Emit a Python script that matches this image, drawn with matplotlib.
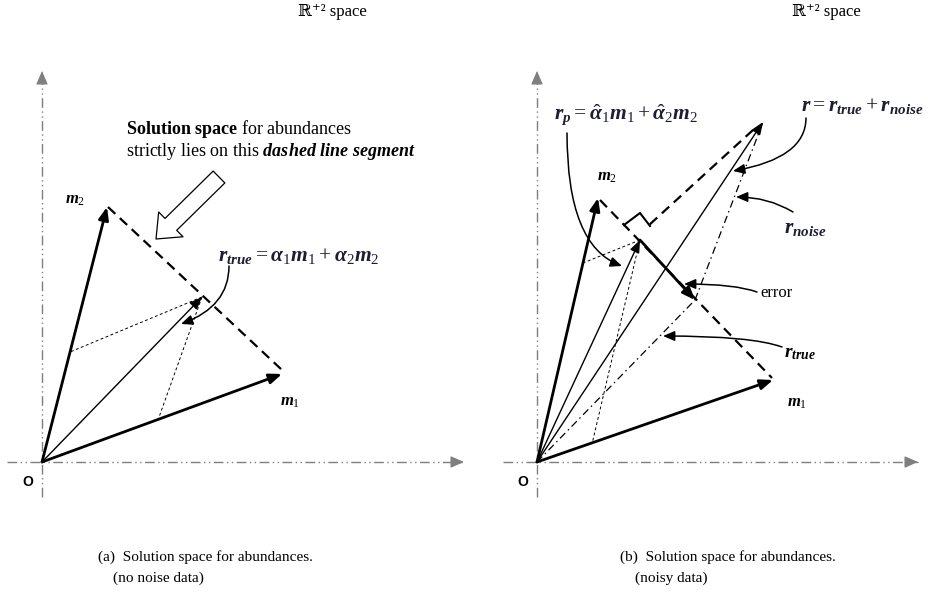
import matplotlib.pyplot as plt
from matplotlib.patches import FancyArrowPatch

plt.rcParams['font.family'] = 'Liberation Serif'
plt.rcParams['mathtext.fontset'] = 'custom'
plt.rcParams['mathtext.rm'] = 'Liberation Serif'
plt.rcParams['mathtext.it'] = 'Liberation Serif:italic:bold'
plt.rcParams['mathtext.bf'] = 'Liberation Serif:bold'

# picture coordinates (pixels, y down) read off the reference
# panel (a): no noise
o_a = (42, 462)
m1_a = (282, 374)
m2_a = (107, 207)
rtrue_a = (202, 297)
foot_m1_a = (158, 420)
foot_m2_a = (70, 352)
seg_a = [(108, 207), (282, 370)]
xaxis_a = [(7, 462), (464, 462)]
yaxis_a = [(42, 497), (42, 71)]

# panel (b): noisy
o_b = (537, 462)
m1_b = (773, 380)
m2_b = (598, 198)
r_b = (763, 122)
rtrue_b = (695, 300)
rp_b = (640, 240)
foot_m1_b = (592, 444)
foot_m2_b = (583, 263)
seg_b = [(600, 200), (772, 378)]
perp_b = [(753, 130), (648, 226)]
corner_b = [(624, 225), (640, 213), (650, 226)]
xaxis_b = [(503, 462), (918, 462)]
yaxis_b = [(537, 497), (537, 71)]

INK = '#1d1d33'
GREY = '#7f7f7f'

fig = plt.figure(figsize=(9.29, 5.95), dpi=100)
ax = fig.add_axes([0, 0, 1, 1])
ax.set_xlim(0, 929)
ax.set_ylim(595, 0)
ax.axis('off')


def seg(p, q, **kw):
    ax.plot([p[0], q[0]], [p[1], q[1]], solid_capstyle='butt', dash_capstyle='butt', **kw)


def arrow(p, q, lw=1.0, color='k', hl=0.75, hw=0.3, ms=10):
    ax.annotate('', xy=q, xytext=p,
                arrowprops=dict(arrowstyle=f'-|>,head_length={hl},head_width={hw}',
                                lw=lw, color=color, shrinkA=0, shrinkB=0,
                                mutation_scale=ms))


def curved(p, q, cs):
    ax.add_patch(FancyArrowPatch(p, q, connectionstyle=cs,
                                 arrowstyle='-|>,head_length=0.7,head_width=0.3',
                                 mutation_scale=10, lw=1.1, color='k',
                                 shrinkA=0, shrinkB=0))


def axis_line(a, b, vertical):
    seg(a, b, color=GREY, lw=1.0, dashes=(7, 2.5, 1, 2.5, 1, 2.5))
    back = (b[0], b[1] + 12) if vertical else (b[0] - 12, b[1])
    arrow(back, b, lw=1.0, color=GREY, hl=0.8, hw=0.35, ms=10)


for xa, ya in [(xaxis_a, yaxis_a), (xaxis_b, yaxis_b)]:
    axis_line(xa[0], xa[1], False)
    axis_line(ya[0], ya[1], True)

# ---- panel (a)
seg(seg_a[0], seg_a[1], color='k', lw=1.6, dashes=(4.5, 2.8))
seg(rtrue_a, foot_m2_a, color='k', lw=0.7, dashes=(3, 2.5))
seg(rtrue_a, foot_m1_a, color='k', lw=0.7, dashes=(3, 2.5))
arrow(o_a, m1_a, lw=2.0)
arrow(o_a, m2_a, lw=2.0)
arrow(o_a, rtrue_a, lw=1.0)
curved((229, 266), (181, 324), 'angle3,angleA=90,angleB=20')

ax.add_patch(FancyArrowPatch((219, 177), (156, 239),
                             arrowstyle='simple,head_length=15,head_width=25,tail_width=12',
                             mutation_scale=1, fc='white', ec='k', lw=0.9,
                             shrinkA=0, shrinkB=0))

ax.text(126, 129, r'$\mathbf{Solution\ space}$ for abundances', fontsize=13,
        ha='left', va='center')
ax.text(126, 151, r'strictly lies on this $dashed\ line\ segment$', fontsize=13,
        ha='left', va='center')
ax.text(299, 256, r'$r_{true} = \alpha_1 m_1 + \alpha_2 m_2$', fontsize=15.5,
        color=INK, ha='center', va='center')
ax.text(75, 200, r'$m_2$', fontsize=12, ha='center', va='center')
ax.text(290, 402, r'$m_1$', fontsize=12, ha='center', va='center')

# ---- panel (b)
seg(seg_b[0], seg_b[1], color='k', lw=1.6, dashes=(4.5, 2.8))
seg(perp_b[0], perp_b[1], color='k', lw=1.6, dashes=(4.5, 2.8))
ax.plot([p[0] for p in corner_b], [p[1] for p in corner_b], color='k', lw=1.5)
seg(rp_b, foot_m2_b, color='k', lw=0.7, dashes=(3, 2.5))
seg(rp_b, foot_m1_b, color='k', lw=0.7, dashes=(3, 2.5))
seg(o_b, rtrue_b, color='k', lw=0.9, dashes=(6, 3, 1.2, 3))
seg(rtrue_b, r_b, color='k', lw=0.9, dashes=(6, 3, 1.2, 3))
arrow(o_b, m1_b, lw=2.0)
arrow(o_b, m2_b, lw=2.0)
arrow(o_b, rp_b, lw=1.0)
arrow(o_b, r_b, lw=1.0)
arrow(rp_b, rtrue_b, lw=2.0)

curved((567, 133), (622, 266), 'angle3,angleA=90,angleB=-20')
curved((806, 118), (733, 171), 'angle3,angleA=90,angleB=10')
curved((793, 212), (736, 197), 'angle3,angleA=149,angleB=0')
curved((757, 292), (684, 284), 'angle3,angleA=160,angleB=0')
curved((782, 347), (663, 336), 'angle3,angleA=160,angleB=0')

ax.text(626, 115, r'$r_p = \hat{\alpha}_1 m_1 + \hat{\alpha}_2 m_2$', fontsize=15.5,
        color=INK, ha='center', va='center')
ax.text(862, 106, r'$r = r_{true} + r_{noise}$', fontsize=15.5,
        color=INK, ha='center', va='center')
ax.text(805, 228, r'$r_{noise}$', fontsize=15.5, color=INK, ha='center', va='center')
ax.text(800, 354, r'$r_{true}$', fontsize=14, ha='center', va='center')
ax.text(777, 293, 'error', fontsize=12, ha='center', va='center')
ax.text(607, 177, r'$m_2$', fontsize=12, ha='center', va='center')
ax.text(797, 403, r'$m_1$', fontsize=12, ha='center', va='center')

# ---- titles, origin marks, captions
for x in (332, 826):
    ax.text(x, 12, '\u211d\u207a\u00b2 space', fontsize=12,
            family=['Liberation Serif', 'DejaVu Serif'], ha='center', va='center')
for x in (28, 523):
    ax.text(x, 482, 'O', fontsize=10, family='Liberation Sans', fontweight='bold',
            ha='center', va='center')

ax.text(98, 557, '(a)  Solution space for abundances.', fontsize=11, ha='left', va='center')
ax.text(113, 578, '(no noise data)', fontsize=11, ha='left', va='center')
ax.text(620, 557, '(b)  Solution space for abundances.', fontsize=11, ha='left', va='center')
ax.text(635, 578, '(noisy data)', fontsize=11, ha='left', va='center')

fig.savefig('out.png', dpi=100)
